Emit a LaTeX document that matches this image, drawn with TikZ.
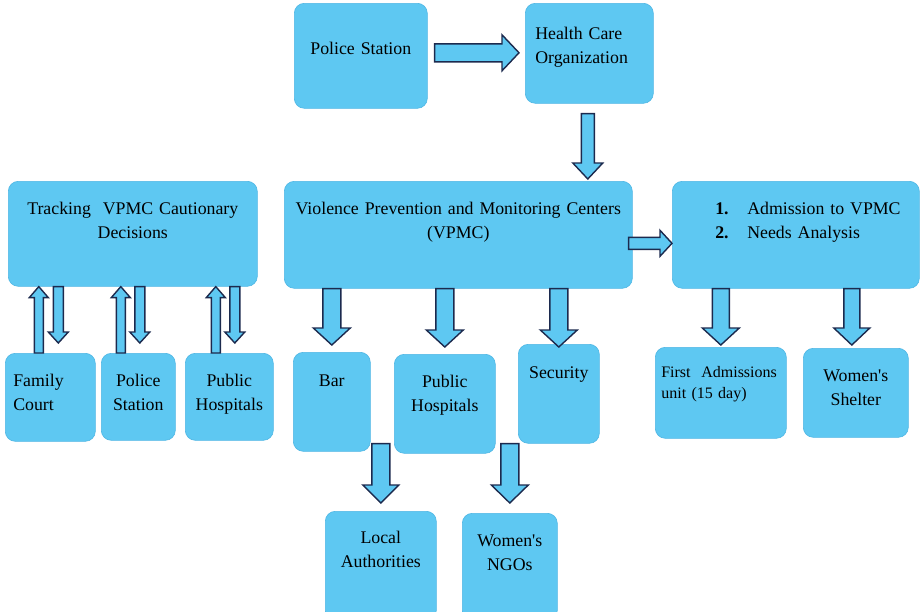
\documentclass[tikz,border=0pt]{standalone}
\usepackage{fontspec}
\setmainfont{Liberation Serif}
\usetikzlibrary{calc}
\definecolor{boxblue}{RGB}{94,200,242}
\definecolor{boxline}{RGB}{78,182,228}
\definecolor{arrline}{RGB}{28,42,78}
\tikzset{
  fat/.style args={#1/#2/#3}{to path={let \p1=(\tikztostart), \p2=(\tikztotarget),
    \n1={atan2(\y2-\y1,\x2-\x1)} in
    ($(\p1)+({\n1+90}:#1)$) -- ($(\p2)+({\n1+180}:#3)+({\n1+90}:#1)$)
    -- ($(\p2)+({\n1+180}:#3)+({\n1+90}:#2)$) -- (\p2)
    -- ($(\p2)+({\n1+180}:#3)+({\n1-90}:#2)$) -- ($(\p2)+({\n1+180}:#3)+({\n1-90}:#1)$)
    -- ($(\p1)+({\n1-90}:#1)$) -- cycle}}
}
\begin{document}
\begin{tikzpicture}[x=1pt,y=-1pt]
  \tikzstyle{blk}=[anchor=north west,fill=boxblue,draw=boxline,line width=0.6pt,rounded corners=10pt,
    inner ysep=0pt,inner xsep=4pt,align=center,font=\fontsize{17.8}{24}\selectfont]
  \tikzstyle{arr}=[draw=arrline,fill=boxblue,line width=1.4pt,line join=miter]
  \useasboundingbox (0,0) rectangle (920,611);

  \node[blk,text width=125pt,text height=51pt,text depth=54pt] (ps) at (294,3) {Police Station};
  \node[blk,inner xsep=10pt,align=left,text width=108pt,text height=36pt,text depth=64pt] (hco) at (525,3) {Health Care\\Organization};

  \node[blk,text width=241pt,text height=33pt,text depth=72pt] (track) at (8,181) {Tracking~~VPMC Cautionary\\Decisions};
  \node[blk,text width=340pt,text height=33pt,text depth=74pt] (vpmc) at (284,181) {Violence Prevention and Monitoring Centers\\(VPMC)};
  \node[blk,inner xsep=6pt,align=left,text width=235pt,text height=33pt,text depth=74pt] (adm) at (672,181)
    {\hspace*{37pt}\makebox[32pt][l]{\textbf{1.}}Admission to VPMC\\\hspace*{37pt}\makebox[32pt][l]{\textbf{2.}}Needs Analysis};

  \node[blk,inner xsep=8pt,align=left,text width=74pt,text height=33pt,text depth=55pt] (fam) at (5,353) {Family\\Court};
  \node[blk,text width=66pt,text height=33pt,text depth=54pt] (pol) at (101,353) {Police\\Station};
  \node[blk,text width=80pt,text height=33pt,text depth=54pt] (phl) at (185,353) {Public\\Hospitals};

  \node[blk,text width=69pt,text height=34pt,text depth=65pt] (bar) at (293,352) {Bar};
  \node[blk,text width=93pt,text height=33pt,text depth=66pt] (phc) at (394,354) {Public\\Hospitals};
  \node[blk,text width=73pt,text height=34pt,text depth=65pt] (sec) at (518,344) {Security};
  \node[blk,text width=103pt,text height=32pt,text depth=77pt] (loc) at (325,511) {Local\\Authorities};
  \node[blk,text width=87pt,text height=33pt,text depth=74pt] (ngo) at (462,513) {Women\textquotesingle s\\NGOs};

  \node[blk,inner xsep=6pt,align=left,text width=119pt,text height=30pt,text depth=61pt,
    font=\fontsize{16}{21}\selectfont] (fad) at (655,347) {First~~Admissions\\unit (15 day)};
  \node[blk,text width=97pt,text height=33pt,text depth=56pt] (she) at (803,348) {Women\textquotesingle s\\Shelter};

  \draw[arr] ([xshift=7pt,yshift=3pt]ps.east) to[fat=9pt/18pt/17pt] ([xshift=-6pt,yshift=3pt]hco.west |- ps.east);
  \draw[arr] ([xshift=-1.5pt,yshift=-10pt]hco.south) to[fat=6.5pt/15pt/16pt] ([xshift=-1.5pt,yshift=2pt]hco.south |- vpmc.north);
  \draw[arr] ([xshift=-4pt,yshift=-8.5pt]vpmc.east) to[fat=6pt/13pt/12pt] ([yshift=-8.5pt]adm.west |- vpmc.east);

  \foreach \b/\s in {bar/7pt,phc/7pt,sec/-3pt}
    \draw[arr] (\b.north |- vpmc.south) to[fat=9pt/18.5pt/17pt] ([yshift=\s]\b.north);
  \draw[arr] ([yshift=8pt]loc.north |- bar.south) to[fat=9pt/18pt/18pt] ([yshift=8pt]loc.north);
  \draw[arr] ([yshift=10pt]ngo.north |- phc.south) to[fat=9pt/18.5pt/18pt] ([yshift=10pt]ngo.north);

  \draw[arr] (fad.north |- adm.south) to[fat=8.5pt/18.5pt/17pt] ([yshift=2pt]fad.north);
  \draw[arr] ([xshift=-4pt]she.north |- adm.south) to[fat=8pt/18pt/17pt] ([xshift=-4pt,yshift=3pt]she.north);

  \foreach \b/\u/\d in {fam/-11.5pt/8pt,pol/-17.5pt/1.5pt,phl/-13.5pt/5.5pt}{
    \draw[arr] ([xshift=\u]\b.north) to[fat=4.5pt/9.5pt/11pt] ([xshift=\u]\b.north |- track.south);
    \draw[arr] ([xshift=\d]\b.north |- track.south) to[fat=5pt/10pt/11pt] ([xshift=\d,yshift=10pt]\b.north);
  }
\end{tikzpicture}
\end{document}
